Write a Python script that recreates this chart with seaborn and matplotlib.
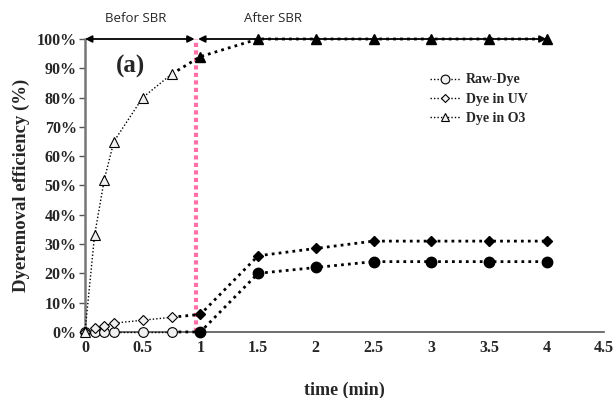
import numpy as np
import pandas as pd
import seaborn as sns
import matplotlib.pyplot as plt
from matplotlib.lines import Line2D

# data
time = [0, 0.083, 0.167, 0.25, 0.5, 0.75, 1, 1.5, 2, 2.5, 3, 3.5, 4]
raw_dye = [0, 0, 0, 0, 0, 0, 0, 20, 22, 24, 24, 24, 24]
dye_uv = [0, 1.5, 2, 3, 4, 5, 6, 26, 28.5, 31, 31, 31, 31]
dye_o3 = [0, 33, 52, 65, 80, 88, 94, 100, 100, 100, 100, 100, 100]
series_names = ["Raw-Dye", "Dye in UV", "Dye in O3"]
x_ticks = [0, 0.5, 1, 1.5, 2, 2.5, 3, 3.5, 4, 4.5]
x_tick_labels = ["0", "0.5", "1", "1.5", "2", "2.5", "3", "3.5", "4", "4.5"]
y_ticks = list(range(0, 101, 10))

sns.set_style("ticks")
plt.rcParams["font.family"] = ["Liberation Serif", "DejaVu Serif"]

df = pd.DataFrame({"time": time, "Raw-Dye": raw_dye, "Dye in UV": dye_uv, "Dye in O3": dye_o3})
pre = df[df["time"] <= 0.75]
post = df[df["time"] >= 0.75]
open_pts = df[df["time"] < 1]
filled_pts = df[df["time"] >= 1]

fig = plt.figure(figsize=(6.16, 3.98), dpi=100)
ax = fig.add_axes([0.138, 0.166, 0.843, 0.736])

# marker, open size, filled size
markers = {"Raw-Dye": ("o", 7.0, 7.5), "Dye in UV": ("D", 5, 5.5), "Dye in O3": ("^", 7.0, 7.0)}

for name in series_names:
    m, ms_open, ms_fill = markers[name]
    sns.lineplot(x=pre["time"], y=pre[name], ax=ax, color="black", lw=1.0,
                 linestyle=(0, (1, 1.5)), clip_on=False, zorder=3)
    sns.lineplot(x=post["time"], y=post[name], ax=ax, color="black", lw=2.0,
                 linestyle=(0, (1, 1.5)), clip_on=False, zorder=3)
    ax.plot(open_pts["time"], open_pts[name], linestyle="none", marker=m, ms=ms_open,
            mfc="#f0f0f0", mec="black", mew=0.8, clip_on=False, zorder=4)
    ax.plot(filled_pts["time"], filled_pts[name], linestyle="none", marker=m, ms=ms_fill,
            mfc="black", mec="black", clip_on=False, zorder=4)

ax.set_xlim(0, 4.5)
ax.set_ylim(0, 100)
ax.set_xticks(x_ticks)
ax.set_xticklabels(x_tick_labels, fontweight="bold", fontsize=11.5)
ax.set_yticks(y_ticks)
ax.set_yticklabels([f"{v}%" for v in y_ticks], fontweight="bold", fontsize=11.5)
ax.tick_params(axis="x", length=0, pad=6)
ax.tick_params(axis="y", length=4, width=1, color="#555555", pad=2)
ax.set_xlabel("time (min)", fontweight="bold", fontsize=13, labelpad=18)
ax.set_ylabel("Dyeremoval efficiency (%)", fontweight="bold", fontsize=13.5, labelpad=5)

sns.despine(ax=ax)
ax.spines["left"].set_color("#777777")
ax.spines["left"].set_linewidth(1.8)
ax.spines["bottom"].set_color("#555555")
ax.spines["bottom"].set_linewidth(1.2)

# SBR divider and arrows
ax.axvline(0.96, color="#ff6fa8", lw=3, linestyle=(0, (1, 0.8)), zorder=2)
ax.annotate("", xy=(0, 100), xytext=(0.95, 100), annotation_clip=False,
            arrowprops=dict(arrowstyle="<|-|>", color="black", lw=1.3,
                            shrinkA=0, shrinkB=0, mutation_scale=10))
ax.annotate("", xy=(0.98, 100), xytext=(4.0, 100), annotation_clip=False,
            arrowprops=dict(arrowstyle="<|-|>", color="black", lw=1.3,
                            shrinkA=0, shrinkB=0, mutation_scale=10))
ax.text(0.44, 107, "Befor SBR", ha="center", va="center", fontsize=9.5,
        family=["Open Sans", "DejaVu Sans"])
ax.text(1.63, 107, "After SBR", ha="center", va="center", fontsize=9.5,
        family=["Open Sans", "DejaVu Sans"])
ax.text(0.39, 90.5, "(a)", ha="center", va="center", fontsize=18, fontweight="bold")

handles = [Line2D([], [], color="black", lw=1.0, linestyle=(0, (1, 1.5)), marker=markers[n][0],
                  ms=markers[n][1] * 0.9, mfc="#f0f0f0", mec="black", mew=0.8)
           for n in series_names]
ax.legend(handles, series_names, loc="upper left", bbox_to_anchor=(0.64, 0.925),
          frameon=False, prop={"weight": "bold", "size": 10}, handlelength=2.2,
          handletextpad=0.4, labelspacing=0.45)

fig.savefig("out.png", dpi=100)
